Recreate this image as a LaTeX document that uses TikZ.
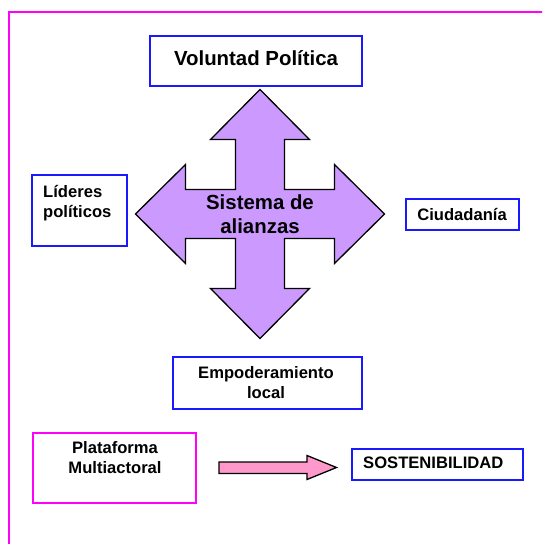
\documentclass[tikz,border=0pt]{standalone}
\usepackage{fontspec}
\setmainfont{Liberation Sans}

\definecolor{boxblue}{RGB}{25,25,255}
\definecolor{framemag}{RGB}{255,0,255}
\definecolor{lilac}{RGB}{204,153,255}
\definecolor{rosa}{RGB}{255,153,204}

\tikzset{
	bluebox/.style={draw=boxblue, line width=1.8pt, inner sep=0pt},
	magbox/.style={draw=framemag, line width=1.8pt, inner sep=0pt},
	bigtext/.style={font=\bfseries\fontsize{20.4}{24}\selectfont, inner sep=0pt, align=center},
	smalltext/.style={font=\bfseries\fontsize{16.6}{20}\selectfont, inner sep=0pt},
	blockarrow/.style={draw=black, line width=1.3pt, line join=miter},
}

\begin{document}
\begin{tikzpicture}[x=1pt, y=-1pt]

			\useasboundingbox (0,0) rectangle (542,544);
			\clip (0,0) rectangle (542,544);
			\draw [framemag, line width=2pt] (9,560) -- (9,12) -- (560,12);

			\node [bluebox, minimum width=212pt, minimum height=50pt] (vol) at (256,61) {};
			\node [bigtext, anchor=base] (voltxt) at (256,65) {Voluntad Política};

			\node [bluebox, minimum width=95pt, minimum height=71pt] (lid) at (79.5,210.5) {};
			\node [smalltext, anchor=north west, align=left] (lidtxt) at (43,185) {Líderes\\políticos};

			\node [bluebox, minimum width=113pt, minimum height=31pt] (ciu) at (462.5,214.5) {};
			\node [smalltext, anchor=base] (ciutxt) at (462,220) {Ciudadanía};

			\node [bluebox, minimum width=189pt, minimum height=52pt] (emp) at (267.5,383) {};
			\node [smalltext, anchor=north, align=center] (emptxt) at (266,366) {Empoderamiento\\local};

			\node [magbox, minimum width=163pt, minimum height=70pt] (pla) at (114.5,468) {};
			\node [smalltext, anchor=north, align=center] (platxt) at (115,441) {Plataforma\\Multiactoral};

			\node [bluebox, minimum width=171pt, minimum height=31pt] (sos) at (437.5,464.5) {};
			\node [smalltext, anchor=base west] (sostxt) at (363,468) {SOSTENIBILIDAD};

			% flecha de cuatro puntas
			\draw [blockarrow, fill=lilac, shift={(260,214)}]
				(0,-124.5) -- (49.5,-74.5) -- (24.5,-74.5) -- (24.5,-24.5)
				-- (74.5,-24.5) -- (74.5,-49.5) -- (124.5,0) -- (74.5,49.5)
				-- (74.5,24.5) -- (24.5,24.5) -- (24.5,74.5) -- (49.5,74.5)
				-- (0,124.5) -- (-49.5,74.5) -- (-24.5,74.5) -- (-24.5,24.5)
				-- (-74.5,24.5) -- (-74.5,49.5) -- (-124.5,0) -- (-74.5,-49.5)
				-- (-74.5,-24.5) -- (-24.5,-24.5) -- (-24.5,-74.5) -- (-49.5,-74.5) -- cycle;
			\node [bigtext] (alitxt) at (260,214.5) {Sistema de\\alianzas};

			% flecha rosa
			\draw [blockarrow, fill=rosa]
				(219,462) -- (307,462) -- (307,455.5) -- (336.5,467.5)
				-- (307,479.5) -- (307,473.5) -- (219,473.5) -- cycle;
		\end{tikzpicture}
\end{document}
